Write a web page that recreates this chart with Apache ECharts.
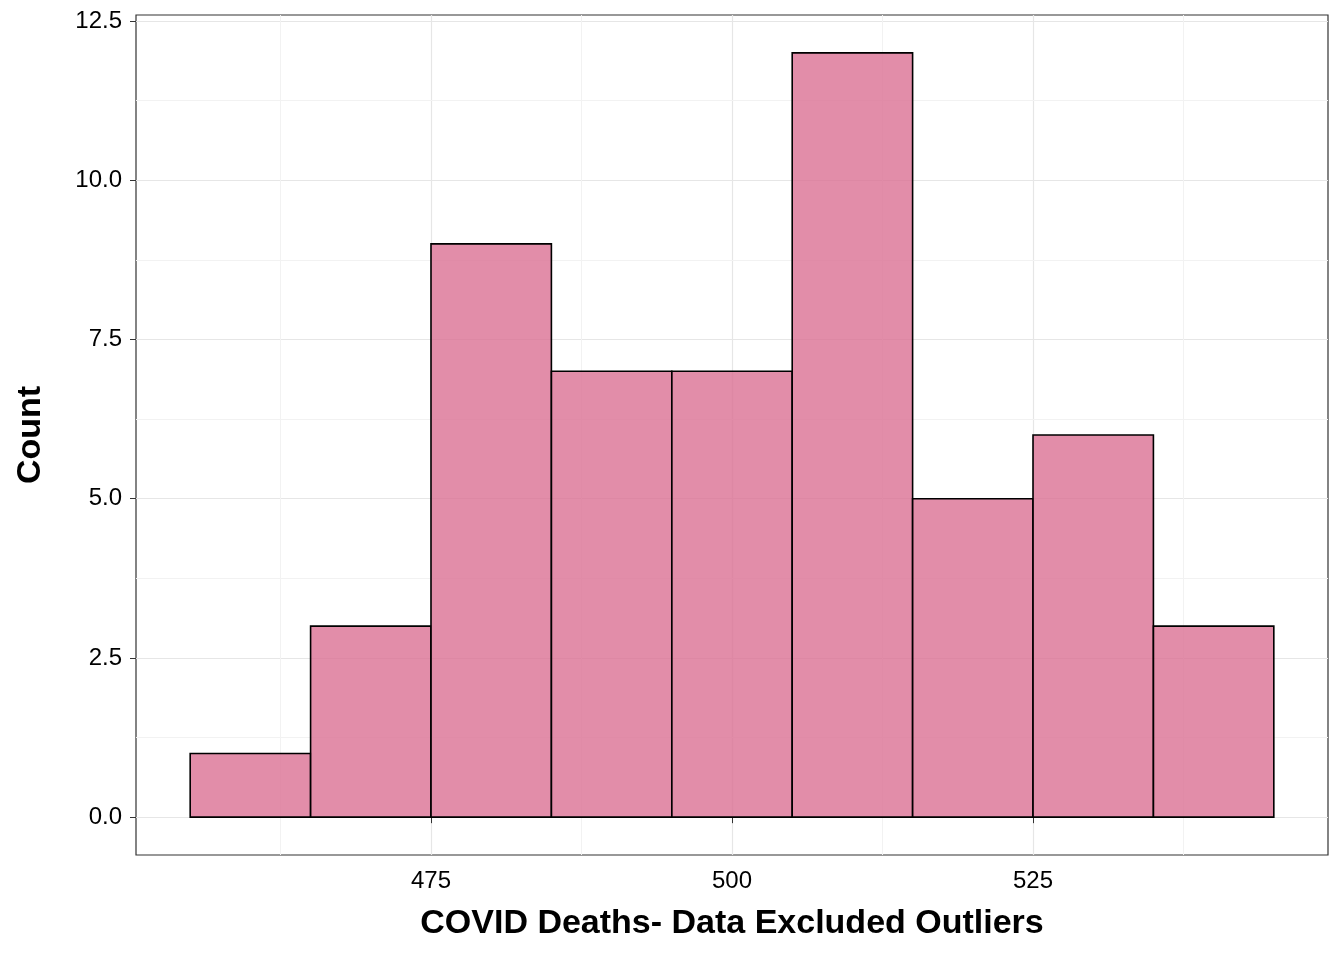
<!DOCTYPE html>
<html>
<head>
<meta charset="utf-8">
<script src="https://cdn.jsdelivr.net/npm/echarts@6/dist/echarts.min.js"></script>
<style>body{margin:0;background:#fff}</style>
</head>
<body>
<div id="main" style="width:1344px;height:960px;"></div>
<script>
// histogram bins (width 10)
var binStart = [455, 465, 475, 485, 495, 505, 515, 525, 535];
var binEnd = [465, 475, 485, 495, 505, 515, 525, 535, 545];
var counts = [1, 3, 9, 7, 7, 12, 5, 6, 3];
var xTicks = [475, 500, 525];
var yTicks = [0, 2.5, 5, 7.5, 10, 12.5];
var xMinor = [462.5, 487.5, 512.5, 537.5];
var yMinor = [1.25, 3.75, 6.25, 8.75, 11.25];

var chart = echarts.init(document.getElementById('main'));
var font = 'Liberation Sans, Arial, sans-serif';
var minorStyle = { color: '#f2f2f2', width: 1, type: 'solid' };

chart.setOption({
  animation: false,
  grid: { left: 136, right: 16, top: 15, bottom: 105, show: true, borderColor: '#333', borderWidth: 1.2 },
  xAxis: {
    type: 'value', min: 450.5, max: 549.5,
    name: 'COVID Deaths- Data Excluded Outliers', nameLocation: 'middle', nameGap: 52,
    nameTextStyle: { fontFamily: font, fontSize: 34, fontWeight: 'bold', color: '#000' },
    axisLine: { show: false },
    axisTick: { show: true, customValues: xTicks, length: 6, lineStyle: { color: '#333' } },
    axisLabel: { customValues: xTicks, fontFamily: font, fontSize: 24, color: '#000', margin: 14 },
    splitLine: { show: true, lineStyle: { color: '#e6e6e6', width: 1.2 } }
  },
  yAxis: {
    type: 'value', min: -0.594, max: 12.594,
    name: 'Count', nameLocation: 'middle', nameGap: 88,
    nameTextStyle: { fontFamily: font, fontSize: 34, fontWeight: 'bold', color: '#000' },
    axisLine: { show: false },
    axisTick: { show: true, customValues: yTicks, length: 6, lineStyle: { color: '#333' } },
    axisLabel: { customValues: yTicks, fontFamily: font, fontSize: 24, color: '#000', margin: 14,
      formatter: function (v) { return v.toFixed(1); } },
    splitLine: { show: true, lineStyle: { color: '#e6e6e6', width: 1.2 } }
  },
  series: [{
    type: 'custom',
    data: counts.map(function (c, i) { return [binStart[i], binEnd[i], c]; }),
    renderItem: function (params, api) {
      var p0 = api.coord([api.value(0), 0]);
      var p1 = api.coord([api.value(1), api.value(2)]);
      return {
        type: 'rect',
        shape: { x: p0[0], y: p1[1], width: p1[0] - p0[0], height: p0[1] - p1[1] },
        style: { fill: 'rgba(219,112,147,0.8)', stroke: '#000', lineWidth: 1.6 }
      };
    },
    z: 3,
    markLine: {
      silent: true, symbol: 'none', label: { show: false }, lineStyle: minorStyle, z: 1,
      data: xMinor.map(function (v) { return { xAxis: v }; })
        .concat(yMinor.map(function (v) { return { yAxis: v }; }))
    }
  }]
});
</script>
</body>
</html>
